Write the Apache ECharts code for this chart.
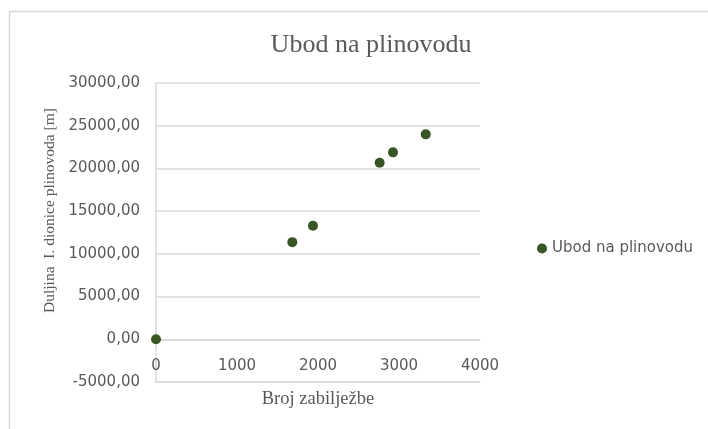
<!DOCTYPE html>
<html>
<head>
<meta charset="utf-8">
<script src="https://cdn.jsdelivr.net/npm/echarts@6/dist/echarts.min.js"></script>
<style>
  html, body { margin: 0; padding: 0; background: #fff; }
  #chart { width: 708px; height: 429px; }
</style>
</head>
<body>
<div id="chart"></div>
<script>
const seriesName = "Ubod na plinovodu";
const xValues = [0, 1683, 1938, 2761, 2926, 3330];
const yValues = [0, 11370, 13280, 20670, 21880, 23990];

const points = xValues.map((x, i) => [x, yValues[i]]);
const textGray = "#595959";
const gridGray = "#d9d9d9";
const serif = "'Liberation Serif', 'DejaVu Serif', serif";
const sans = "'DejaVu Sans', 'Liberation Sans', sans-serif";

const yMin = -5000;
const yMax = 30000;
const gridTop = 83;
const gridBottom = 47;
const plotHeight = 429 - gridTop - gridBottom;
// x axis sits on y = 0, like the Excel original
const xAxisShift = plotHeight * (0 - yMin) / (yMax - yMin);

const chart = echarts.init(document.getElementById("chart"));
chart.setOption({
  animation: false,
  backgroundColor: "#fff",
  graphic: [
    {
      type: "rect",
      shape: { x: 9.5, y: 11.5, width: 720, height: 430 },
      style: { fill: "none", stroke: gridGray, lineWidth: 1.5 },
      silent: true
    }
  ],
  title: {
    text: seriesName,
    left: 366,
    top: 27,
    textAlign: "center",
    textStyle: { fontFamily: serif, fontSize: 26, fontWeight: "normal", color: textGray }
  },
  legend: {
    left: 532,
    top: 236,
    icon: "circle",
    itemWidth: 10,
    itemHeight: 10,
    itemGap: 6,
    textStyle: { fontFamily: sans, fontSize: 15, color: textGray },
    data: [seriesName]
  },
  grid: {
    left: 156, right: 228, top: gridTop, bottom: gridBottom,
    containLabel: false, outerBoundsMode: "none"
  },
  xAxis: [
    {
      type: "value",
      min: 0,
      max: 4000,
      interval: 1000,
      offset: -xAxisShift,
      name: "Broj zabilježbe",
      nameLocation: "middle",
      nameGap: 50,
      nameTextStyle: { fontFamily: serif, fontSize: 18.5, color: textGray },
      axisLine: { show: true, onZero: false, lineStyle: { color: gridGray, width: 1.5 } },
      axisTick: { show: false },
      axisLabel: {
        fontFamily: sans,
        fontSize: 15,
        color: textGray,
        margin: 19,
        formatter: v => String(v)
      },
      splitLine: { show: false }
    },
    {
      // bottom border line of the plot (the -5000 gridline)
      type: "value",
      position: "bottom",
      min: 0,
      max: 4000,
      axisLine: { show: true, onZero: false, lineStyle: { color: gridGray, width: 1.5 } },
      axisTick: { show: false },
      axisLabel: { show: false },
      splitLine: { show: false }
    }
  ],
  yAxis: {
    type: "value",
    min: yMin,
    max: yMax,
    interval: 5000,
    name: "Duljina  I. dionice plinovoda [m]",
    nameLocation: "middle",
    nameGap: 98,
    nameTextStyle: { fontFamily: serif, fontSize: 15.5, color: textGray, padding: [0, 0, 0, 44] },
    axisLine: { show: true, onZero: false, lineStyle: { color: gridGray, width: 1.5 } },
    axisTick: { show: false },
    axisLabel: {
      fontFamily: sans,
      fontSize: 15,
      color: textGray,
      margin: 16,
      formatter: v => v.toFixed(2).replace(".", ",")
    },
    splitLine: { show: true, lineStyle: { color: gridGray, width: 1.5 } }
  },
  series: [
    {
      name: seriesName,
      type: "scatter",
      data: points,
      symbol: "circle",
      symbolSize: 10,
      itemStyle: { color: "#375623", opacity: 1 }
    }
  ]
});
</script>
</body>
</html>
